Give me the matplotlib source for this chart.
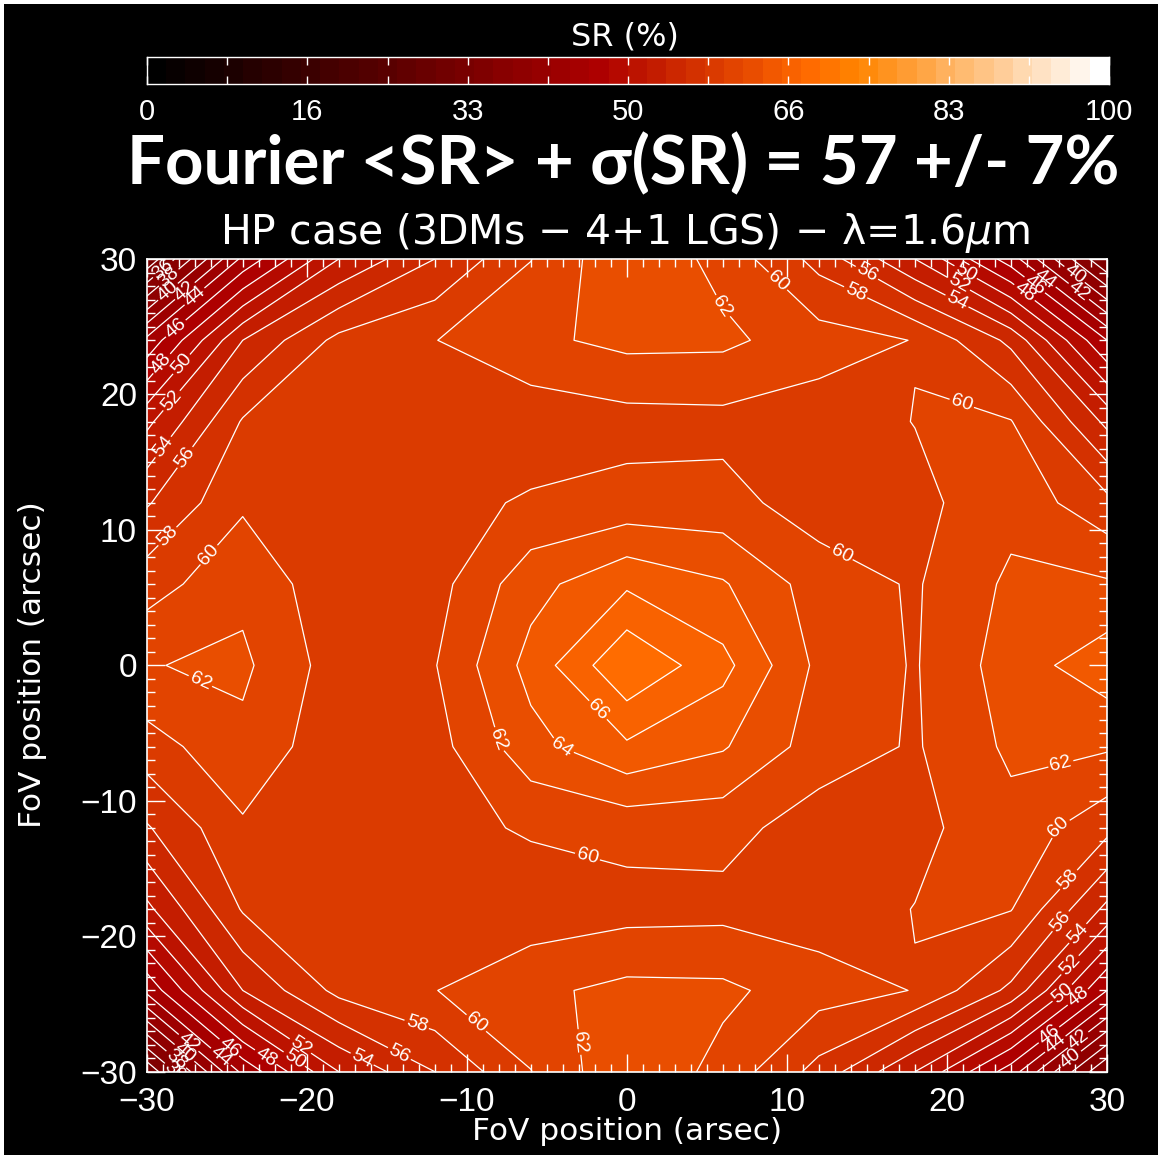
import numpy as np
import matplotlib
matplotlib.use("Agg")
import matplotlib.pyplot as plt
from matplotlib.colors import LinearSegmentedColormap, ListedColormap
from matplotlib.patches import Rectangle
from matplotlib.ticker import MultipleLocator

# field of view sampling (arcsec)
fov_x = [-30, -24, -18, -12, -6, 0, 6, 12, 18, 24, 30]
fov_y = [-30, -24, -18, -12, -6, 0, 6, 12, 18, 24, 30]

# Strehl ratio (%) per FoV row, x from -30 to +30
sr_m30 = [32.5, 44.5, 52.0, 56.0, 59.95, 63.75, 61.34, 57.3, 52.0, 45.0, 34.0]
sr_m24 = [44.5, 54.0, 58.6, 59.95, 61.55, 62.55, 62.44, 60.9, 59.93, 55.5, 46.0]
sr_m18 = [51.5, 58.2, 59.0, 59.3, 58.75, 59.25, 59.39, 59.0, 60.05, 60.1, 53.5]
sr_m12 = [55.8, 59.7, 59.5, 59.3, 60.25, 60.7, 60.7, 59.02, 59.43, 61.33, 58.6]
sr_m06 = [59.1, 61.47, 58.63, 59.24, 63.28, 65.67, 64.2, 61.06, 59.79, 62.39, 62.25]
sr_p00 = [61.9, 62.4, 59.0, 59.9, 64.7, 69.8, 66.63, 61.5, 59.85, 63.0, 65.2]
sr_p06 = [59.1, 61.47, 58.63, 59.24, 63.28, 65.67, 64.2, 61.06, 59.79, 62.39, 62.25]
sr_p12 = [55.8, 59.7, 59.5, 59.3, 60.25, 60.7, 60.7, 59.02, 59.43, 61.33, 58.6]
sr_p18 = [51.5, 58.2, 59.0, 59.3, 58.75, 59.25, 59.39, 59.0, 60.05, 60.1, 53.5]
sr_p24 = [44.5, 54.0, 58.6, 59.95, 61.55, 62.55, 62.44, 60.9, 59.93, 55.5, 46.0]
sr_p30 = [32.5, 44.5, 52.0, 56.0, 59.95, 63.75, 61.34, 57.3, 52.0, 45.0, 34.0]

cbar_tick_labels = ["0", "16", "33", "50", "66", "83", "100"]

# where the contour values get written (level, x, y)
label_spots = [
    (36, -28.6, 28.7), (38, -28.1, 27.9), (40, -28.4, 27.2), (42, -27.3, 27.2),
    (44, -26.7, 26.8), (46, -27.7, 24.2), (48, -28.5, 21.7), (50, -27.4, 21.8),
    (52, -27.9, 19.0), (54, -28.5, 15.7), (56, -27.2, 15.0), (58, -28.6, 9.4),
    (60, -26.25, 8.3), (62, -26.7, -1.3),
    (62, 6.1, 26.6), (60, 9.7, 28.7), (58, 14.4, 27.8), (56, 15.2, 29.4),
    (54, 20.8, 27.3), (52, 20.8, 28.3), (50, 21.2, 29.1), (48, 24.7, 27.3),
    (46, 25.3, 27.8), (44, 26.0, 28.3), (42, 28.5, 28.0), (40, 28.0, 28.9),
    (60, 21.0, 19.6), (60, 13.6, 8.7), (62, 27.1, -7.2), (60, 26.75, -11.5),
    (58, 27.3, -15.5), (56, 26.9, -18.7), (54, 27.9, -19.5), (52, 27.3, -21.7),
    (50, 26.9, -23.7), (48, 27.8, -23.9), (46, 26.0, -26.7), (44, 26.4, -27.4),
    (42, 27.9, -27.2), (40, 27.3, -28.4),
    (66, -1.8, -3.3), (64, -4.0, -5.9), (62, -8.1, -5.5), (60, -2.3, -13.4),
    (60, -9.4, -26.4), (62, -2.9, -27.8), (58, -13.1, -26.4), (56, -14.1, -28.4),
    (54, -16.25, -28.4), (52, -20.0, -27.4), (50, -20.4, -28.4), (48, -22.1, -28.1),
    (46, -24.4, -27.6), (44, -24.8, -28.1), (42, -26.9, -27.2), (40, -27.2, -28.0),
    (38, -27.8, -28.6), (36, -27.6, -29.2),
]

sr_map = np.array([sr_m30, sr_m24, sr_m18, sr_m12, sr_m06, sr_p00,
                   sr_p06, sr_p12, sr_p18, sr_p24, sr_p30])

# IDL-like "red temperature" table
red_temp = LinearSegmentedColormap("red_temp", {
    "red": [(0.0, 0.0, 0.0), (0.69, 1.0, 1.0), (1.0, 1.0, 1.0)],
    "green": [(0.0, 0.0, 0.0), (0.47, 0.0, 0.0), (1.0, 1.0, 1.0)],
    "blue": [(0.0, 0.0, 0.0), (0.745, 0.0, 0.0), (1.0, 1.0, 1.0)],
})
n_bands = 50
band_colors = [red_temp(k / (n_bands - 1)) for k in range(n_bands)]
fill_levels = np.linspace(0, 100, n_bands + 1)
line_levels = np.arange(32, 70, 2)

plt.rcParams["font.family"] = ["Liberation Sans", "DejaVu Sans"]

W, H = 1162, 1159
fig = plt.figure(figsize=(W / 100, H / 100), dpi=100, facecolor="white")
fig.add_artist(Rectangle((4 / W, 4 / H), 1 - 8 / W, 1 - 8 / H,
                         transform=fig.transFigure, facecolor="black",
                         edgecolor="none", zorder=0))

# --- main map ---
ax = fig.add_axes([146.7 / W, 1 - 1071.7 / H, 960.3 / W, 812.7 / H])
ax.set_facecolor("black")
ax.contourf(fov_x, fov_y, sr_map, levels=fill_levels, colors=band_colors)

# one contour set per level so every label lands on its own line
for lvl in line_levels:
    cs = ax.contour(fov_x, fov_y, sr_map, levels=[lvl], colors="white",
                    linewidths=0.9)
    spots = [(lx, ly) for l, lx, ly in label_spots if l == lvl]
    if spots and len(cs.allsegs[0]) > 0:
        cs.clabel(manual=spots, inline=True, inline_spacing=2,
                  fontsize=14, fmt="%d", colors="white")

ax.set_xlim(-30, 30)
ax.set_ylim(-30, 30)
for a in (ax.xaxis, ax.yaxis):
    a.set_major_locator(MultipleLocator(10))
    a.set_minor_locator(MultipleLocator(1))
ax.tick_params(which="major", direction="in", length=13, width=1,
               colors="white", top=True, right=True, labelsize=24)
ax.tick_params(which="minor", direction="in", length=6, width=1,
               colors="white", top=True, right=True)
ax.tick_params(axis="x", which="major", pad=11)
ax.tick_params(axis="y", which="major", pad=7)
for s in ax.spines.values():
    s.set_color("white")
    s.set_linewidth(1.2)

# --- colour bar ---
cax = fig.add_axes([147 / W, 1 - 84 / H, 962 / W, 27 / H])
cax.imshow(np.arange(n_bands).reshape(1, -1), cmap=ListedColormap(band_colors),
           aspect="auto", extent=[0, 100, 0, 1], interpolation="nearest")
cax.set_xlim(0, 100)
cax.set_yticks([])
cax.set_xticks(np.linspace(0, 100, 7), cbar_tick_labels)
cax.set_xticks(np.linspace(0, 100, 13), minor=True)
cax.tick_params(which="both", direction="in", top=True, bottom=True,
                length=6, width=1, colors="white", labelsize=21, pad=10)
for s in cax.spines.values():
    s.set_color("white")
    s.set_linewidth(1)

# --- texts ---
word_font = ["DejaVu Sans"]
fig.text(625 / W, 1 - 37 / H, "SR (%)", ha="center", va="center",
         color="white", fontsize=23, family=word_font)
fig.text(623 / W, 1 - 165 / H, "Fourier <SR> + σ(SR) = 57 +/- 7%",
         ha="center", va="center", color="white", fontsize=48.3,
         fontweight="bold", family=["Lato", "DejaVu Sans"])
fig.text(625 / W, 1 - 233 / H, "HP case (3DMs − 4+1 LGS) − λ=1.6$\\mu$m",
         ha="center", va="center", color="white", fontsize=29.5,
         family=word_font)
fig.text(627 / W, 1 - 1132 / H, "FoV position (arsec)", ha="center",
         va="center", color="white", fontsize=22.5, family=word_font)
fig.text(33 / W, 1 - 665 / H, "FoV position (arcsec)", ha="center",
         va="center", rotation=90, color="white", fontsize=22.5,
         family=word_font)

fig.savefig("out.png", dpi=100, facecolor=fig.get_facecolor())
